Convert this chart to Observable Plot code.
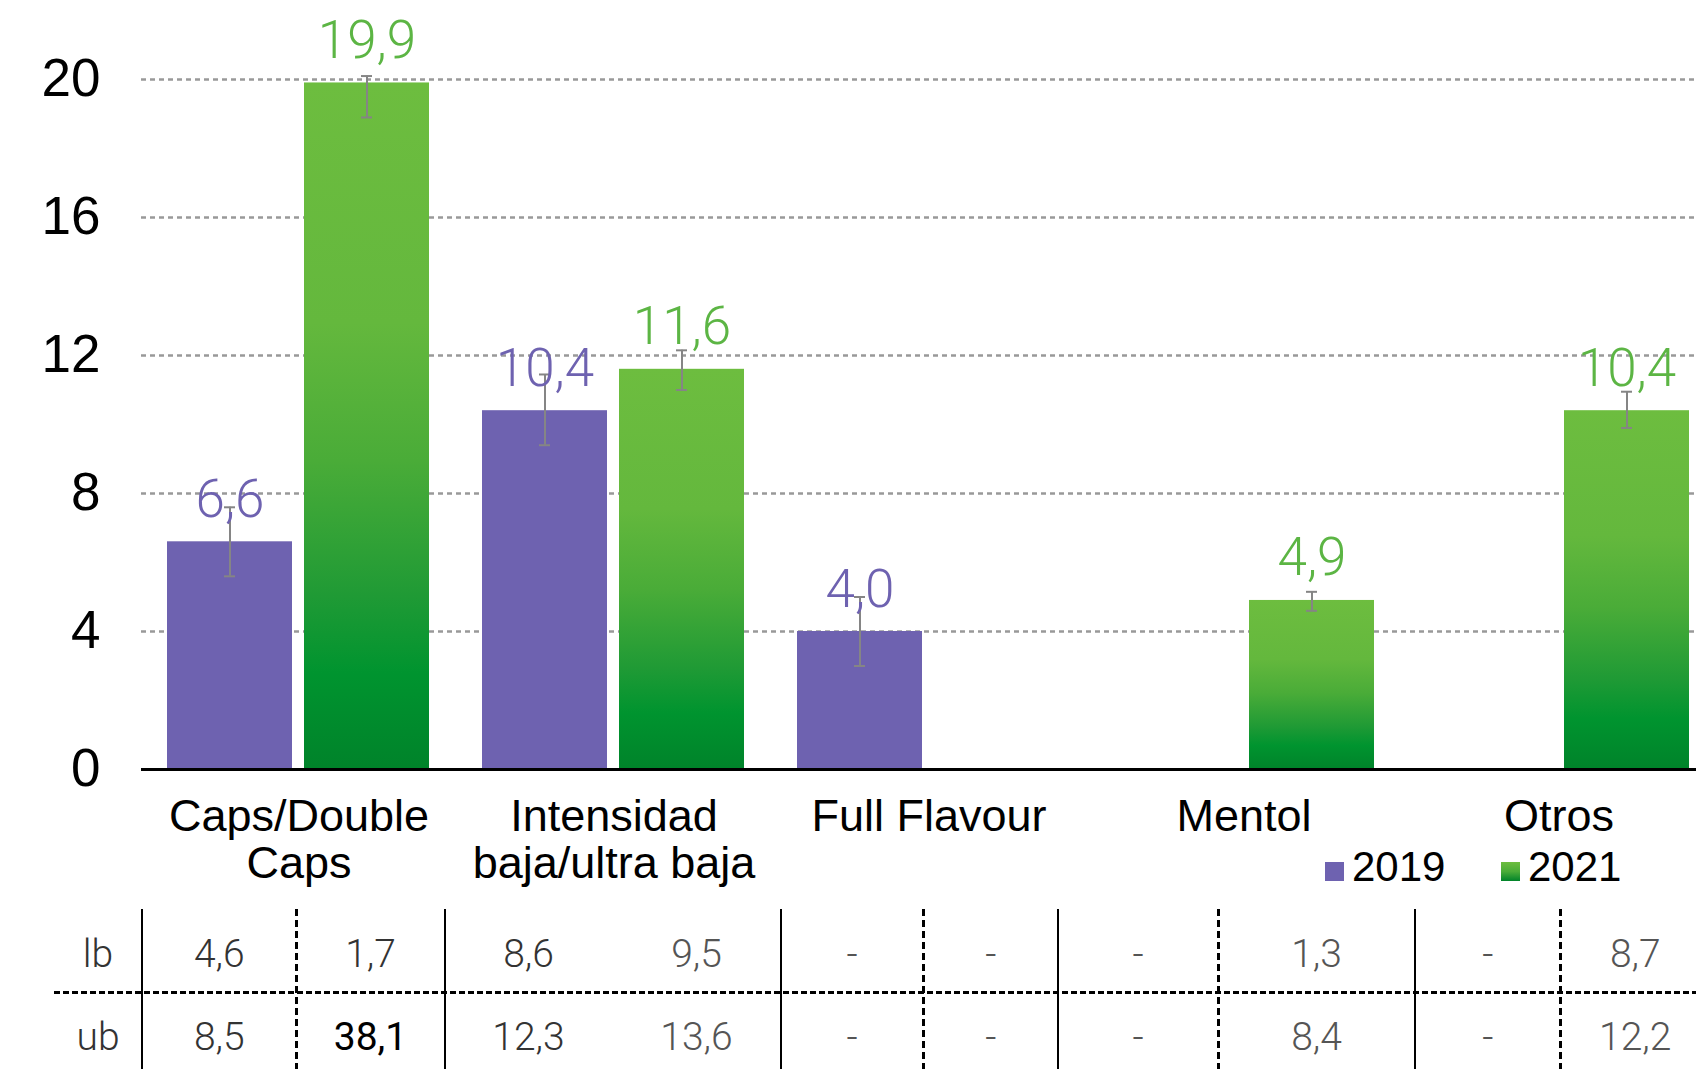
<!DOCTYPE html>
<html>
<head>
<meta charset="utf-8">
<script src="https://cdn.jsdelivr.net/npm/d3@7"></script>
<script src="https://cdn.jsdelivr.net/npm/@observablehq/plot@0.6"></script>
<style>
  html, body { margin: 0; padding: 0; background: #fff; overflow: hidden; }
  #root { position: relative; width: 1696px; height: 1069px; overflow: hidden; background: #fff; }
  #chart { position: absolute; left: 0; top: 0; width: 1716px; }
  .abs { position: absolute; }
  .legtext { font-family: "Liberation Sans", Arial, sans-serif; font-size: 42px; line-height: 42px; color: #000; white-space: nowrap; }
  .cell { font-family: Roboto, "Liberation Sans", sans-serif; font-weight: 300; font-size: 39px; height: 50px; line-height: 50px; text-align: center; white-space: nowrap; }
</style>
</head>
<body>
<svg width="0" height="0" style="position:absolute">
  <defs>
    <linearGradient id="greenGrad" x1="0" y1="0" x2="0" y2="1">
      <stop offset="0" stop-color="#6dbd3f"/>
      <stop offset="0.35" stop-color="#64b83d"/>
      <stop offset="0.55" stop-color="#4aac38"/>
      <stop offset="0.75" stop-color="#1f9a35"/>
      <stop offset="0.86" stop-color="#00942f"/>
      <stop offset="1" stop-color="#00832a"/>
    </linearGradient>
  </defs>
</svg>
<div id="root">
  <div id="chart"></div>
  <div id="legend"></div>
  <div id="table"></div>
</div>
<script>
// ---------- data ----------
const categories = ["Caps/Double Caps", "Intensidad baja/ultra baja", "Full Flavour", "Mentol", "Otros"];
const categoryLabels = ["Caps/Double\nCaps", "Intensidad\nbaja/ultra baja", "Full Flavour", "Mentol", "Otros"];
const years = ["2019", "2021"];
const values2019 = [6.6, 10.4, 4.0, null, null];
const values2021 = [19.9, 11.6, null, 4.9, 10.4];
const low2019 = [5.6, 9.4, 3.0, null, null];
const high2019 = [7.6, 11.45, 5.0, null, null];
const low2021 = [18.9, 11.0, null, 4.6, 9.9];
const high2021 = [20.1, 12.15, null, 5.15, 10.95];
const yTicks = [0, 4, 8, 12, 16, 20];

const tableRowNames = ["lb", "ub"];
const lbValues = ["4,6", "1,7", "8,6", "9,5", "-", "-", "-", "1,3", "-", "8,7"];
const ubValues = ["8,5", "38,1", "12,3", "13,6", "-", "-", "-", "8,4", "-", "12,2"];

// ---------- styles ----------
const purple = "#6e62b0";
const greenLabel = "#5cb544";
const errColor = "#858585";
const sans = "'Liberation Sans', Arial, Helvetica, sans-serif";
const light = "Roboto, 'Liberation Sans', sans-serif";

const fmt = v => d3.format(".1f")(v).replace(".", ",");

function buildRows(vals, lo, hi, year) {
  return categories.map((cat, i) => ({cat, year, value: vals[i], lo: lo[i], hi: hi[i]}))
    .filter(d => d.value != null);
}
const rows2019 = buildRows(values2019, low2019, high2019, years[0]);
const rows2021 = buildRows(values2021, low2021, high2021, years[1]);
const allRows = rows2019.concat(rows2021);
const catRows = categories.map((cat, i) => ({cat, label: categoryLabels[i]}));

const chart = Plot.plot({
  width: 1716,
  height: 905,
  marginLeft: 141,
  marginRight: 0,
  marginTop: 79,
  marginBottom: 136,
  style: {background: "transparent", maxWidth: "none", overflow: "visible"},
  fx: {domain: categories, padding: 0, axis: null, label: null},
  x: {domain: years, paddingInner: 0.087, paddingOuter: 0.185, axis: null},
  y: {domain: [0, 20], axis: null},
  marks: [
    Plot.gridY(yTicks.filter(t => t > 0), {stroke: "#999", strokeOpacity: 1, strokeWidth: 2.5, strokeDasharray: "5,4"}),
    Plot.axisY(yTicks, {tickSize: 0, tickPadding: 41, fontSize: 53, fontFamily: sans, fill: "#000", label: null}),
    Plot.barY(rows2019, {fx: "cat", x: "year", y: "value", fill: purple}),
    Plot.barY(rows2021, {fx: "cat", x: "year", y: "value", fill: "url(#greenGrad)"}),
    Plot.ruleY([0], {stroke: "#000", strokeWidth: 3}),
    Plot.ruleX(allRows, {fx: "cat", x: "year", y1: "lo", y2: "hi", stroke: errColor, strokeWidth: 2}),
    Plot.tickY(allRows, {fx: "cat", x: "year", y: "lo", insetLeft: 57, insetRight: 57, stroke: errColor, strokeWidth: 2}),
    Plot.tickY(allRows, {fx: "cat", x: "year", y: "hi", insetLeft: 57, insetRight: 57, stroke: errColor, strokeWidth: 2}),
    Plot.text(rows2019, {fx: "cat", x: "year", y: "value", text: d => fmt(d.value), dy: -25, lineAnchor: "bottom", fontSize: 53, fontWeight: 300, fontFamily: light, fill: purple}),
    Plot.text(rows2021, {fx: "cat", x: "year", y: "value", text: d => fmt(d.value), dy: -25, lineAnchor: "bottom", fontSize: 53, fontWeight: 300, fontFamily: light, fill: greenLabel}),
    Plot.text(catRows, {fx: "cat", text: "label", frameAnchor: "bottom", lineAnchor: "top", dy: 28, fontSize: 45, lineHeight: 1.04, fontFamily: sans, fill: "#000"})
  ]
});
document.getElementById("chart").appendChild(chart);

// ---------- legend ----------
const legend = document.getElementById("legend");
const legendSwatchLeft = [1325, 1501];
const legendFills = [purple, "linear-gradient(to bottom, #6dbd3f 0%, #4aac38 50%, #00832a 100%)"];
years.forEach((y, i) => {
  const sw = document.createElement("div");
  sw.className = "abs";
  Object.assign(sw.style, {left: legendSwatchLeft[i] + "px", top: "862px", width: "19px", height: "19px", background: legendFills[i]});
  legend.appendChild(sw);
  const t = document.createElement("div");
  t.className = "abs legtext";
  Object.assign(t.style, {left: (legendSwatchLeft[i] + 27) + "px", top: "846px"});
  t.textContent = y;
  legend.appendChild(t);
});

// ---------- table ----------
const table = document.getElementById("table");
const colEdges = [142, 296.5, 444.5, 612.5, 780.5, 923.5, 1058, 1218, 1415, 1560.5, 1710];
const edgeKinds = ["solid", "dashed", "solid", "none", "solid", "dashed", "solid", "dashed", "solid", "dashed"];
const rowCenters = [953.5, 1037];
const lineTop = 909, lineBottom = 1069;

edgeKinds.forEach((kind, i) => {
  if (kind === "none") return;
  const l = document.createElement("div");
  l.className = "abs";
  const w = kind === "solid" ? 2 : 3;
  Object.assign(l.style, {
    left: (colEdges[i] - w / 2) + "px", top: lineTop + "px", width: w + "px", height: (lineBottom - lineTop) + "px",
    background: kind === "solid" ? "#000" : "repeating-linear-gradient(to bottom, #000 0 7px, transparent 7px 11px)"
  });
  table.appendChild(l);
});
const hl = document.createElement("div");
hl.className = "abs";
Object.assign(hl.style, {left: "54px", top: "991px", width: (1696 - 54) + "px", height: "3px",
  background: "repeating-linear-gradient(to right, #000 0 6px, transparent 6px 9px)"});
table.appendChild(hl);

[lbValues, ubValues].forEach((vals, r) => {
  const lab = document.createElement("div");
  lab.className = "abs cell";
  Object.assign(lab.style, {left: "48px", width: "100px", top: (rowCenters[r] - 25) + "px", color: "#333"});
  lab.textContent = tableRowNames[r];
  table.appendChild(lab);
  vals.forEach((v, c) => {
    const d = document.createElement("div");
    d.className = "abs cell";
    const x0 = colEdges[c], x1 = colEdges[c + 1];
    const num = parseFloat(v.replace(",", "."));
    const strong = !isNaN(num) && num > 30;
    Object.assign(d.style, {
      left: x0 + "px", width: (x1 - x0) + "px", top: (rowCenters[r] - 25) + "px",
      color: strong ? "#000" : (c < 3 ? "#333" : "#555"),
      fontWeight: strong ? 400 : 300
    });
    d.textContent = v;
    table.appendChild(d);
  });
});
</script>
</body>
</html>
